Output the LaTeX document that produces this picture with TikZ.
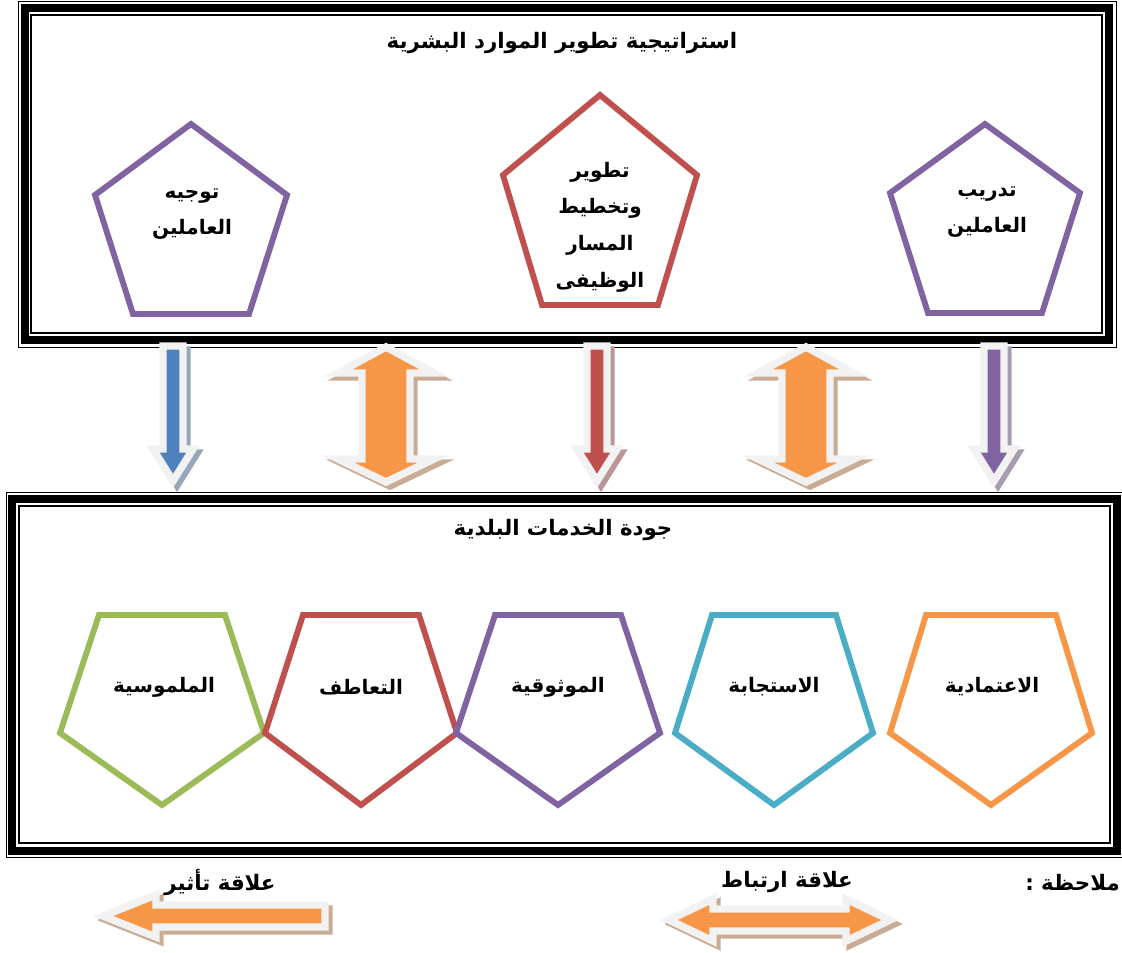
\documentclass[tikz,border=0pt]{standalone}
\usepackage{fontspec}
\newfontfamily\arabicfont[Script=Arabic]{DejaVu Sans}
\TeXXeTstate=1
\newcommand{\ar}[1]{{\beginR #1\endR}}
\definecolor{accpurple}{HTML}{8064A2}
\definecolor{accred}{HTML}{C0504D}
\definecolor{accblue}{HTML}{4F81BD}
\definecolor{accgreen}{HTML}{9BBB59}
\definecolor{acccyan}{HTML}{4BACC6}
\definecolor{accorange}{HTML}{F79646}
\definecolor{rimgrey}{HTML}{F2F2F2}
\tikzset{
  lbl/.style={font=\arabicfont\bfseries\fontsize{15}{27.5}\selectfont, align=center, inner sep=0pt},
  headlbl/.style={lbl, font=\arabicfont\bfseries\fontsize{16}{20}\selectfont},
  pent/.style={line width=4.4pt},
  rim/.style={draw=rimgrey, line width=5.6pt},
  shade/.style={fill=#1!60!black!50!white, draw=#1!60!black!50!white, line width=5.6pt, shift={(4,4)}}
}
\begin{document}
\begin{tikzpicture}[x=0.75pt,y=-0.75pt]
\useasboundingbox (0,0) rectangle (1122,953);
% frames
\draw[line width=0.75pt] (18,1) rectangle (1116,347);
\draw[line width=6pt] (25,8) rectangle (1109,340);
\draw[line width=1.1pt] (31,15) rectangle (1102,333);
\draw[line width=0.75pt] (6,492) rectangle (1125,857);
\draw[line width=6pt] (12,499) rectangle (1117,851);
\draw[line width=1.1pt] (19,506) rectangle (1110,843);
\node[headlbl] (title1) at (562,43) {\ar{استراتيجية تطوير الموارد البشرية}};
\node[headlbl] (title2) at (563,530) {\ar{جودة الخدمات البلدية}};
% top pentagons
\foreach \cx/\ya/\mw/\ym/\bw/\yb/\col in {191/124/96/195/58/314/accpurple, 600/95/97/175/58/305/accred, 985/124/95/193/57/313/accpurple}{
  \draw[pent, draw=\col] (\cx,\ya) -- (\cx+\mw,\ym) -- (\cx+\bw,\yb) -- (\cx-\bw,\yb) -- (\cx-\mw,\ym) -- cycle;
}
\node[lbl] (p1) at (192,214) {\ar{توجيه}\\\ar{العاملين}};
\node[lbl] (p2) at (600,227) {\ar{تطوير}\\\ar{وتخطيط}\\\ar{المسار}\\\ar{الوظيفى}};
\node[lbl] (p3) at (987,212) {\ar{تدريب}\\\ar{العاملين}};
% bottom pentagons
\foreach \cx/\tw/\mw/\col in {162/63/102/accgreen, 361/58/96/accred, 558/63/102/accpurple, 774/62/99/acccyan, 991/65/101/accorange}{
  \draw[pent, draw=\col] (\cx-\tw,615) -- (\cx+\tw,615) -- (\cx+\mw,733) -- (\cx,805) -- (\cx-\mw,733) -- cycle;
}
\node[lbl] (q1) at (164,687) {\ar{الملموسية}};
\node[lbl] (q2) at (361,687) {\ar{التعاطف}};
\node[lbl] (q3) at (558,687) {\ar{الموثوقية}};
\node[lbl] (q4) at (774,687) {\ar{الاستجابة}};
\node[lbl] (q5) at (992,687) {\ar{الاعتمادية}};
% influence arrows
\foreach \cx/\col in {173/accblue, 597/accred, 994/accpurple}{
  \filldraw[shade=\col] (\cx-10,346) -- (\cx+10,346) -- (\cx+10,449) -- (\cx+20,449) -- (\cx,481) -- (\cx-20,449) -- (\cx-10,449) -- cycle;
  \filldraw[rim, fill=\col] (\cx-10,346) -- (\cx+10,346) -- (\cx+10,449) -- (\cx+20,449) -- (\cx,481) -- (\cx-20,449) -- (\cx-10,449) -- cycle;
}
% correlation arrows
\foreach \cx in {386, 806}{
  \filldraw[shade=accorange] (\cx,347) -- (\cx+48,373) -- (\cx+24,373) -- (\cx+24,459) -- (\cx+48,459) -- (\cx,482) -- (\cx-48,459) -- (\cx-24,459) -- (\cx-24,373) -- (\cx-48,373) -- cycle;
  \filldraw[rim, fill=accorange] (\cx,347) -- (\cx+48,373) -- (\cx+24,373) -- (\cx+24,459) -- (\cx+48,459) -- (\cx,482) -- (\cx-48,459) -- (\cx-24,459) -- (\cx-24,373) -- (\cx-48,373) -- cycle;
}
% legend
\node[headlbl, anchor=east] (note) at (1120,883) {\ar{ملاحظة :}};
\filldraw[shade=accorange] (103,916) -- (156,895) -- (156,905) -- (325,905) -- (325,927) -- (156,927) -- (156,937) -- cycle;
\filldraw[rim, fill=accorange] (103,916) -- (156,895) -- (156,905) -- (325,905) -- (325,927) -- (156,927) -- (156,937) -- cycle;
\node[headlbl] (lg1) at (220,883) {\ar{علاقة تأثير}};
\filldraw[shade=accorange] (669,920) -- (713,899) -- (713,909) -- (846,909) -- (846,899) -- (890,920) -- (846,941) -- (846,931) -- (713,931) -- (713,941) -- cycle;
\filldraw[rim, fill=accorange] (669,920) -- (713,899) -- (713,909) -- (846,909) -- (846,899) -- (890,920) -- (846,941) -- (846,931) -- (713,931) -- (713,941) -- cycle;
\node[headlbl] (lg2) at (787,882) {\ar{علاقة ارتباط}};
\end{tikzpicture}
\end{document}
